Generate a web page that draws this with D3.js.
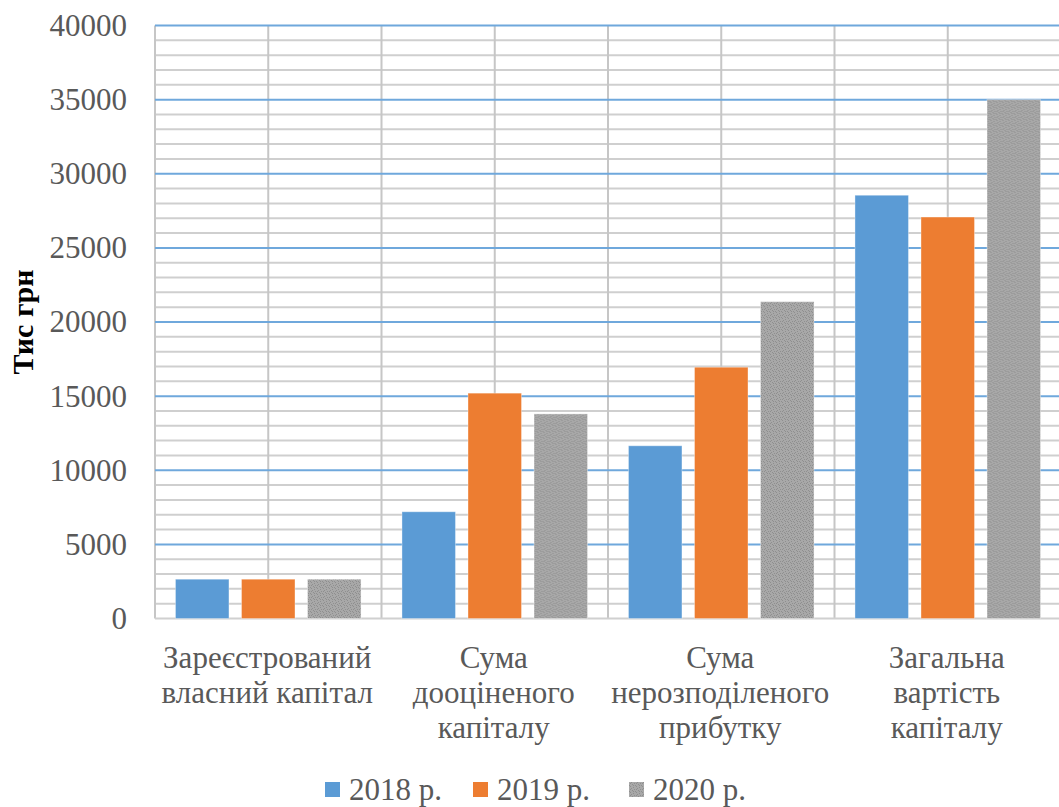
<!DOCTYPE html>
<html>
<head>
<meta charset="utf-8">
<script src="https://cdn.jsdelivr.net/npm/d3@7"></script>
<style>
  html, body { margin: 0; padding: 0; background: #fff; }
  svg { display: block; }
</style>
</head>
<body>
<svg id="chart" width="1059" height="807"></svg>
<script>
const categories = [
  ["Зареєстрований", "власний капітал"],
  ["Сума", "дооціненого", "капіталу"],
  ["Сума", "нерозподіленого", "прибутку"],
  ["Загальна", "вартість", "капіталу"]
];
const seriesNames = ["2018 р.", "2019 р.", "2020 р."];
const values2018 = [2650, 7200, 11650, 28550];
const values2019 = [2650, 15200, 16950, 27080];
const values2020 = [2650, 13800, 21370, 35000];
const yTicks = [0, 5000, 10000, 15000, 20000, 25000, 30000, 35000, 40000];
const yTitle = "Тис грн";

(function () {
const seriesValues = [values2018, values2019, values2020];
const colors = ["#5b9bd5", "#ed7d31", "url(#grayTex)"];

const svg = d3.select("#chart");
const font = "'Liberation Serif', 'Times New Roman', serif";

const defs = svg.append("defs");
const pat = defs.append("pattern").attr("id", "grayTex")
  .attr("patternUnits", "userSpaceOnUse").attr("width", 6).attr("height", 6);
pat.append("rect").attr("width", 6).attr("height", 6).attr("fill", "#a8a8a8");
[[0,0],[3,1],[1,2],[4,3],[2,4],[5,5],[0,3],[3,5]].forEach(([px,py]) =>
  pat.append("rect").attr("x", px).attr("y", py).attr("width", 1).attr("height", 1).attr("fill", "#8f8f8f"));

const pLeft = 155, pRight = 1061, pTop = 25.5, pBottom = 618.5;
const catKeys = categories.map((c, i) => i);

const x0 = d3.scaleBand().domain(catKeys).range([pLeft, pRight]).paddingInner(0).paddingOuter(0);
const x1 = d3.scaleBand().domain(d3.range(seriesNames.length)).range([0, x0.bandwidth()])
  .paddingInner(0.19).paddingOuter(0.31);
const y = d3.scaleLinear().domain([0, 40000]).range([pBottom, pTop]);

const minor = d3.range(0, 40001, 1000).filter(v => v % 5000 !== 0);
svg.append("g").selectAll("line").data(minor).join("line")
  .attr("x1", pLeft).attr("x2", pRight)
  .attr("y1", d => y(d)).attr("y2", d => y(d))
  .attr("stroke", "#cfcfcf").attr("stroke-width", 2);

const vx = [];
catKeys.forEach(k => { vx.push(x0(k)); vx.push(x0(k) + x0.bandwidth() / 2); });
vx.push(pRight);
svg.append("g").selectAll("line").data(vx).join("line")
  .attr("x1", d => d).attr("x2", d => d)
  .attr("y1", pTop).attr("y2", pBottom)
  .attr("stroke", "#c6c6c6").attr("stroke-width", 2);

svg.append("g").selectAll("line").data(yTicks.filter(v => v > 0)).join("line")
  .attr("x1", pLeft).attr("x2", pRight)
  .attr("y1", d => y(d)).attr("y2", d => y(d))
  .attr("stroke", "#6fa8dc").attr("stroke-width", 2);

svg.append("line").attr("x1", pLeft).attr("x2", pRight).attr("y1", pBottom).attr("y2", pBottom)
  .attr("stroke", "#d0d0d0").attr("stroke-width", 2);

const groups = svg.append("g").selectAll("g").data(catKeys).join("g")
  .attr("transform", k => `translate(${x0(k)},0)`);
groups.selectAll("rect").data(k => seriesValues.map((s, i) => ({ i, v: s[k] }))).join("rect")
  .attr("x", d => x1(d.i)).attr("width", x1.bandwidth())
  .attr("y", d => y(d.v)).attr("height", d => y(0) - y(d.v))
  .attr("fill", d => colors[d.i])
  .attr("stroke", "#ffffff").attr("stroke-opacity", 0.35).attr("stroke-width", 1);

const yAxis = d3.axisLeft(y).tickValues(yTicks).tickSize(0).tickPadding(0).tickFormat(d3.format("d"));
const ya = svg.append("g").attr("transform", `translate(127,0)`).call(yAxis);
ya.select(".domain").remove();
ya.selectAll("text").attr("font-family", font).attr("font-size", 31).attr("fill", "#595959")
  .attr("dy", "0.32em");

svg.append("text")
  .attr("transform", "translate(33,322) rotate(-90)")
  .attr("text-anchor", "middle")
  .attr("font-family", font).attr("font-size", 30).attr("font-weight", "bold").attr("fill", "#000")
  .text(yTitle);

const catG = svg.append("g");
catKeys.forEach(k => {
  const cx = x0(k) + x0.bandwidth() / 2 - 1;
  const t = catG.append("text")
    .attr("x", cx).attr("y", 668)
    .attr("text-anchor", "middle")
    .attr("font-family", font).attr("font-size", 31).attr("fill", "#595959");
  categories[k].forEach((line, j) => {
    t.append("tspan").attr("x", cx).attr("y", 668 + j * 35).text(line);
  });
});

const legendX = [325, 473, 629];
const lg = svg.append("g");
seriesNames.forEach((name, i) => {
  lg.append("rect").attr("x", legendX[i]).attr("y", 782).attr("width", 15).attr("height", 15)
    .attr("fill", colors[i]);
  lg.append("text").attr("x", legendX[i] + 24).attr("y", 800)
    .attr("font-family", font).attr("font-size", 31).attr("fill", "#595959").text(name);
});
})();
</script>
</body>
</html>
